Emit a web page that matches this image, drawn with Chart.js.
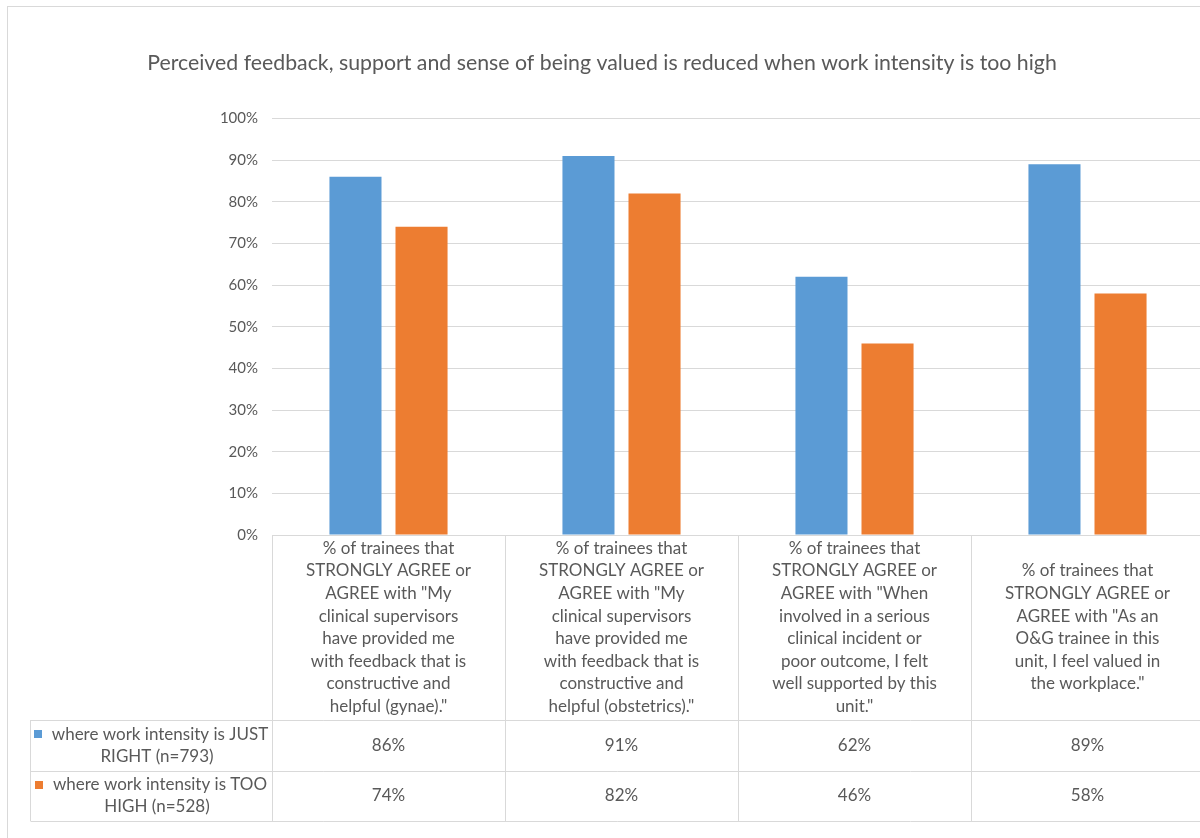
<!DOCTYPE html>
<html>
<head>
<meta charset="utf-8">
<script src="https://cdn.jsdelivr.net/npm/chart.js@4.4.0/dist/chart.umd.min.js"></script>
<style>
  html, body { margin: 0; padding: 0; background: #fff; overflow: hidden; }
  #chart { display: block; }
</style>
</head>
<body>
<canvas id="chart" width="1230" height="845"></canvas>
<script>
// survey statements, pre-wrapped the way they sit in the table cells
var categories = [
    ['% of trainees that', 'STRONGLY AGREE or', 'AGREE with "My', 'clinical supervisors', 'have provided me', 'with feedback that is', 'constructive and', 'helpful (gynae)."'],
    ['% of trainees that', 'STRONGLY AGREE or', 'AGREE with "My', 'clinical supervisors', 'have provided me', 'with feedback that is', 'constructive and', 'helpful (obstetrics)."'],
    ['% of trainees that', 'STRONGLY AGREE or', 'AGREE with "When', 'involved in a serious', 'clinical incident or', 'poor outcome, I felt', 'well supported by this', 'unit."'],
    ['% of trainees that', 'STRONGLY AGREE or', 'AGREE with "As an', 'O&G trainee in this', 'unit, I feel valued in', 'the workplace."']
];
var seriesNames = [
    ['where work intensity is JUST', 'RIGHT (n=793)'],
    ['where work intensity is TOO', 'HIGH (n=528)']
];
var justRight = [86, 91, 62, 89];
var tooHigh = [74, 82, 46, 58];
var seriesColors = ['#5b9bd5', '#ed7d31'];

var textColor = '#595959';
var lineColor = '#d9d9d9';
var fontFamily = 'Lato, "Open Sans", sans-serif';

// draws the outer frame plus the data table underneath the plot
var dataTable = {
    id: 'dataTable',
    beforeDraw: function(chart) {
        var ctx = chart.ctx;
        ctx.save();
        ctx.strokeStyle = lineColor;
        ctx.lineWidth = 1;
        ctx.strokeRect(7.5, 6.5, chart.width - 2, chart.height - 2);
        ctx.restore();
    },
    afterDraw: function(chart) {
        var ctx = chart.ctx;
        var area = chart.chartArea;
        var n = categories.length;
        var colW = (area.right - area.left) / n;
        var top = area.bottom;
        var catBottom = top + 185;
        var rowH = 50.5;
        var tableLeft = 30;
        var lineH = 22.6;

        ctx.save();
        ctx.strokeStyle = lineColor;
        ctx.lineWidth = 1;
        ctx.beginPath();
        for (var i = 0; i <= n; i++) {
            var vx = Math.round(area.left + i * colW) + 0.5;
            ctx.moveTo(vx, top);
            ctx.lineTo(vx, catBottom + 2 * rowH);
        }
        for (var k = 0; k <= 2; k++) {
            var hy = Math.round(catBottom + k * rowH) + 0.5;
            ctx.moveTo(tableLeft + 0.5, hy);
            ctx.lineTo(area.right, hy);
        }
        ctx.moveTo(tableLeft + 0.5, catBottom);
        ctx.lineTo(tableLeft + 0.5, catBottom + 2 * rowH);
        ctx.stroke();

        ctx.fillStyle = textColor;
        ctx.font = '17px ' + fontFamily;
        ctx.textAlign = 'center';
        ctx.textBaseline = 'middle';

        // category statements, centred in their cells
        categories.forEach(function(lines, i) {
            var cx = chart.scales.x.getPixelForValue(i);
            var cy = (top + catBottom) / 2;
            var y0 = cy - (lines.length - 1) * lineH / 2;
            lines.forEach(function(line, j) {
                ctx.fillText(line, cx, y0 + j * lineH);
            });
        });

        // one row per series: legend key + values
        var rows = [justRight, tooHigh];
        rows.forEach(function(values, r) {
            var rowMid = catBottom + r * rowH + rowH / 2;
            var name = seriesNames[r];
            var keyX = tableLeft + (area.left - tableLeft) / 2 + 9;
            ctx.fillStyle = textColor;
            ctx.fillText(name[0], keyX, rowMid - 11);
            ctx.fillText(name[1], keyX - 3, rowMid + 11);
            var w = ctx.measureText(name[0]).width;
            ctx.fillStyle = seriesColors[r];
            ctx.fillRect(Math.round(keyX - w / 2 - 18), Math.round(rowMid - 15), 8, 8);
            ctx.fillStyle = textColor;
            values.forEach(function(v, i) {
                ctx.fillText(v + '%', chart.scales.x.getPixelForValue(i), rowMid);
            });
        });
        ctx.restore();
    }
};

var ctx = document.getElementById('chart').getContext('2d');
new Chart(ctx, {
    type: 'bar',
    data: {
        labels: categories,
        datasets: [{
            label: seriesNames[0].join(' '),
            data: justRight,
            backgroundColor: seriesColors[0],
            categoryPercentage: 0.567,
            barPercentage: 0.788
        }, {
            label: seriesNames[1].join(' '),
            data: tooHigh,
            backgroundColor: seriesColors[1],
            categoryPercentage: 0.567,
            barPercentage: 0.788
        }]
    },
    options: {
        responsive: false,
        animation: false,
        layout: {
            padding: { top: 0, left: 0, right: 26, bottom: 310 }
        },
        plugins: {
            legend: { display: false },
            tooltip: { enabled: false },
            title: {
                display: true,
                text: 'Perceived feedback, support and sense of being valued is reduced when work intensity is too high',
                color: textColor,
                font: { family: fontFamily, size: 21.3, weight: 'normal' },
                padding: { top: 50, bottom: 43 }
            }
        },
        scales: {
            x: {
                display: false
            },
            y: {
                min: 0,
                max: 100,
                ticks: {
                    stepSize: 10,
                    color: textColor,
                    font: { family: fontFamily, size: 15 },
                    padding: 14,
                    callback: function(v) { return v + '%'; }
                },
                grid: { color: lineColor, drawTicks: false },
                border: { display: false },
                afterFit: function(scale) { scale.width = 272; }
            }
        }
    },
    plugins: [dataTable]
});
</script>
</body>
</html>
